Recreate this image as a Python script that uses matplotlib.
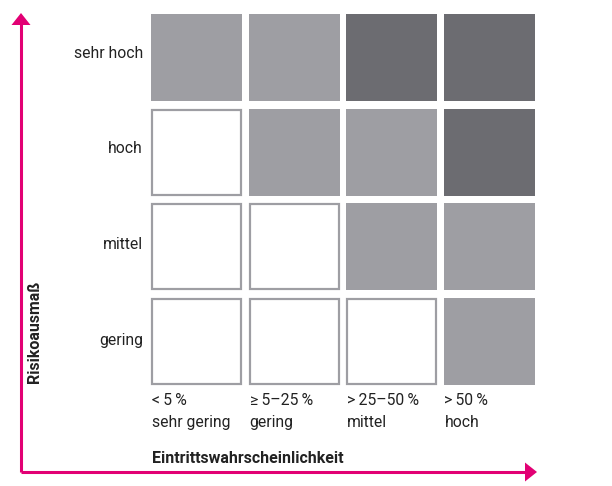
import matplotlib
matplotlib.use("Agg")
import matplotlib.pyplot as plt
from matplotlib.patches import Rectangle

matplotlib.rcParams['font.family'] = ['Roboto', 'DejaVu Sans']

# data
risk_levels = ['sehr hoch', 'hoch', 'mittel', 'gering']          # top to bottom
prob_ranges = ['<\u20095\u2009%', '≥\u20095–25\u2009%', '>\u200925–50\u2009%', '>\u200950\u2009%']
prob_names = ['sehr gering', 'gering', 'mittel', 'hoch']
# 0 = kein, 1 = mittel, 2 = hoch (rows top to bottom)
matrix = [[1, 1, 2, 2],
          [0, 1, 1, 2],
          [0, 0, 1, 1],
          [0, 0, 0, 1]]

fill_colors = {0: 'white', 1: '#9e9ea3', 2: '#6c6c71'}
magenta = '#e20074'
text_color = '#222222'

W, H = 612, 486
fig = plt.figure(figsize=(W / 100, H / 100), dpi=100)
ax = fig.add_axes([0, 0, 1, 1])
ax.set_xlim(0, W)
ax.set_ylim(H, 0)
ax.axis('off')

x0, y0 = 151, 14
cell_w, cell_h = 91, 87
step_x, step_y = 97.5, 94.5
lw = 2.2

for r, row in enumerate(matrix):
    for c, lvl in enumerate(row):
        x = x0 + c * step_x
        y = y0 + r * step_y
        if lvl == 0:
            ax.add_patch(Rectangle((x + 1, y + 1), cell_w - 2, cell_h - 2,
                                   facecolor='white', edgecolor=fill_colors[1],
                                   linewidth=lw * 0.72))
        else:
            ax.add_patch(Rectangle((x, y), cell_w, cell_h,
                                   facecolor=fill_colors[lvl], edgecolor='none'))

# row labels
for r, lab in enumerate(risk_levels):
    ax.text(143, 57.5 + r * 95.8, lab, ha='right', va='baseline',
            fontsize=11.3, color=text_color)

# column labels
for c in range(len(prob_ranges)):
    x = x0 + c * step_x + 1
    ax.text(x, 405, prob_ranges[c], ha='left', va='baseline',
            fontsize=11.3, color=text_color)
    ax.text(x, 427, prob_names[c], ha='left', va='baseline', fontsize=11.3,
            color=text_color)

# axis titles
ax.text(152, 463, 'Eintrittswahrscheinlichkeit', ha='left', va='baseline',
        fontsize=11.5, fontweight='bold', color=text_color)
ax.text(35, 383, 'Risikoausmaß', ha='left', va='center', rotation=90,
        fontsize=11.5, fontweight='bold', color=text_color,
        rotation_mode='anchor')

# arrows
ax.plot([21, 21], [472, 24], color=magenta, linewidth=2.2, solid_capstyle='butt')
ax.plot([21, 527], [472, 472], color=magenta, linewidth=2.2, solid_capstyle='butt')
ax.add_patch(plt.Polygon([[11.5, 25], [30.5, 25], [21, 13]], closed=True,
                         facecolor=magenta, edgecolor='none'))
ax.add_patch(plt.Polygon([[525, 462.5], [525, 481.5], [537, 472]], closed=True,
                         facecolor=magenta, edgecolor='none'))

fig.savefig('out.png', dpi=100)
